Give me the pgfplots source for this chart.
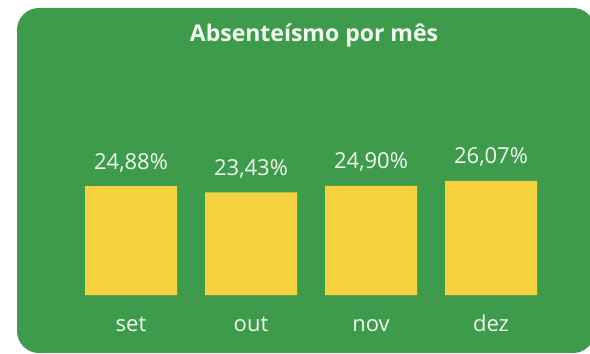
\documentclass[border=0pt]{standalone}
\usepackage{fontspec}
\setmainfont{Open Sans}
\usepackage{pgfplots}
\pgfplotsset{compat=1.18}
\definecolor{cardgreen}{HTML}{3D9B4B}
\definecolor{baryellow}{HTML}{F5D13F}
\definecolor{labelwhite}{HTML}{F2F9EE}
\begin{document}
\begin{tikzpicture}[x=1pt,y=1pt]
\useasboundingbox (0,0) rectangle (590,354);
\clip (0,0) rectangle (590,354);
\fill[white] (0,0) rectangle (590,354);
% card background
\fill[cardgreen, rounded corners=22pt] (17,1) rectangle (595,346);
% title
\node[font=\bfseries\fontsize{23}{27}\selectfont, text=labelwhite, anchor=base]
  at (314,312) {Absenteísmo por mês};
\begin{axis}[
  at={(71pt,59pt)}, anchor=south west,
  scale only axis, width=480pt, height=131.4pt,
  xmin=-0.5, xmax=3.5, ymin=0, ymax=30,
  ybar, bar width=92pt,
  axis line style={draw=none},
  tick style={draw=none},
  ymajorticks=false,
  xtick=data,
  xticklabels={set,out,nov,dez},
  xticklabel style={anchor=base, yshift=-32pt, text=labelwhite,
    font=\fontsize{22}{26}\selectfont},
  nodes near coords={\pgfmathprintnumber[fixed, fixed zerofill, precision=2,
    use comma, assume math mode=true]{\pgfplotspointmeta}\%},
  nodes near coords style={anchor=base, yshift=17pt, text=labelwhite,
    font=\fontsize{22}{26}\selectfont},
  clip=false,
]
\addplot[fill=baryellow, draw=none] coordinates {
  (0,24.88) (1,23.43) (2,24.90) (3,26.07)
};
\end{axis}
\end{tikzpicture}
\end{document}
